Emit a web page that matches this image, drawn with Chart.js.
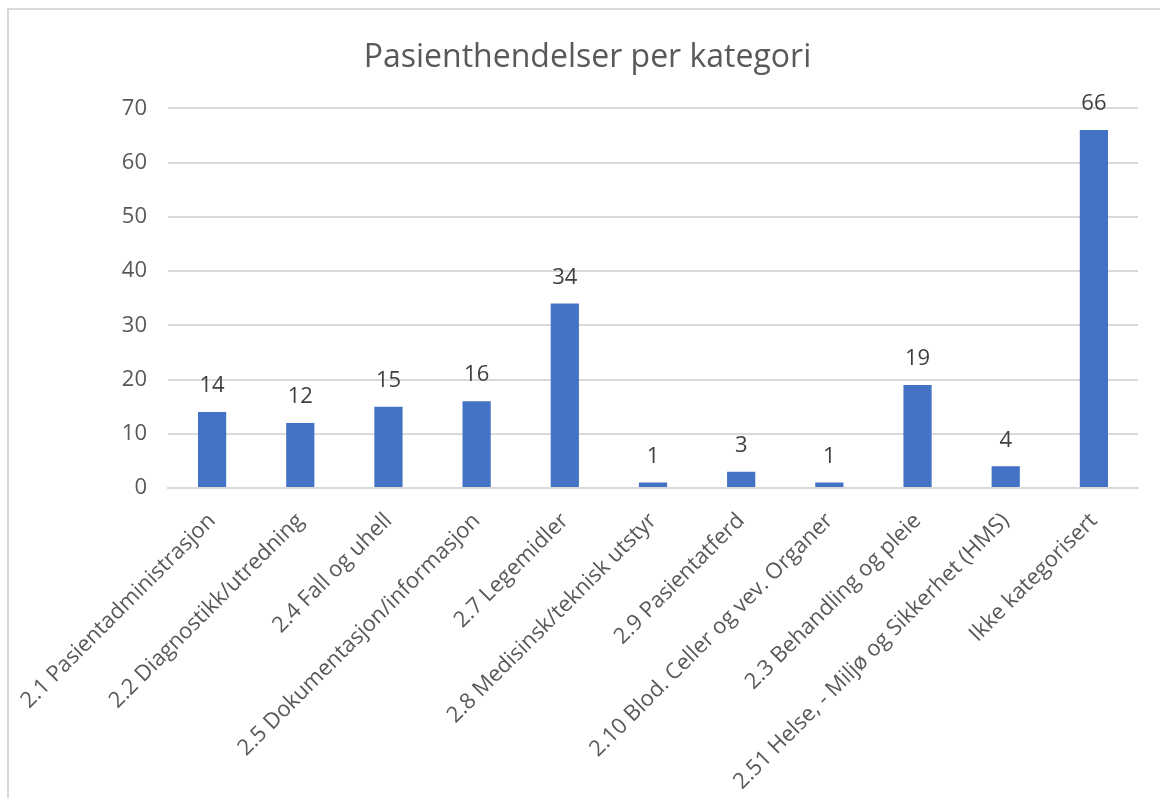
<!DOCTYPE html>
<html>
<head>
<meta charset="utf-8">
<script src="https://cdn.jsdelivr.net/npm/chart.js@4"></script>
<style>
  html, body { margin: 0; padding: 0; background: #fff; overflow: hidden; }
  #wrap {
    position: absolute; left: 7px; top: 8px; width: 1166px; height: 800px;
    border-top: 2px solid #d9d9d9; border-left: 2px solid #d9d9d9;
  }
  #myChart { display: block; }
</style>
</head>
<body>
<div id="wrap"><canvas id="myChart" width="1166" height="790"></canvas></div>
<script>
var categories = [
  '2.1 Pasientadministrasjon',
  '2.2 Diagnostikk/utredning',
  '2.4 Fall og uhell',
  '2.5 Dokumentasjon/informasjon',
  '2.7 Legemidler',
  '2.8 Medisinsk/teknisk utstyr',
  '2.9 Pasientatferd',
  '2.10 Blod. Celler og vev. Organer',
  '2.3 Behandling og pleie',
  '2.51 Helse, - Miljø og Sikkerhet (HMS)',
  'Ikke kategorisert'
];
var counts = [14, 12, 15, 16, 34, 1, 3, 1, 19, 4, 66];
var yTicks = [0, 10, 20, 30, 40, 50, 60, 70];

var fontFamily = '"Open Sans", Lato, sans-serif';

// simple value labels above the bars
var valueLabels = {
  id: 'valueLabels',
  afterLayout: function (chart) {
    // title is centred on the whole frame, not on the padded box
    chart.titleBlock.left += 14;
    chart.titleBlock.right += 14;
  },
  afterDatasetsDraw: function (chart) {
    var ctx = chart.ctx;
    var meta = chart.getDatasetMeta(0);
    ctx.save();
    ctx.font = '22px ' + fontFamily;
    ctx.fillStyle = '#404040';
    ctx.textAlign = 'center';
    ctx.textBaseline = 'middle';
    meta.data.forEach(function (bar, i) {
      ctx.fillText(String(counts[i]), bar.x, bar.y - 26);
    });
    ctx.restore();
  }
};

var ctx = document.getElementById('myChart').getContext('2d');
var myChart = new Chart(ctx, {
  type: 'bar',
  data: {
    labels: categories,
    datasets: [{
      data: counts,
      backgroundColor: '#4472c4',
      borderWidth: 0,
      barPercentage: 0.32,
      categoryPercentage: 1
    }]
  },
  plugins: [valueLabels],
  options: {
    responsive: false,
    animation: false,
    layout: { padding: { left: 0, right: 37, top: 0, bottom: 0 } },
    scales: {
      x: {
        grid: { display: false },
        border: { display: true, color: '#d9d9d9', width: 2 },
        ticks: {
          color: '#595959',
          font: { family: fontFamily, size: 22 },
          maxRotation: 45,
          minRotation: 45,
          autoSkip: false,
          padding: 12,
          labelOffset: 0
        },
        afterFit: function (scale) {
          scale.height = 312;
          scale.paddingLeft = 0;
        }
      },
      y: {
        min: 0,
        max: 70,
        grid: { color: '#d9d9d9', lineWidth: 2, drawTicks: false },
        border: { display: false },
        afterBuildTicks: function (scale) {
          scale.ticks = yTicks.map(function (v) { return { value: v }; });
        },
        ticks: {
          color: '#595959',
          font: { family: fontFamily, size: 22 },
          padding: 21
        },
        afterFit: function (scale) { scale.width = 159; }
      }
    },
    plugins: {
      legend: { display: false },
      tooltip: { enabled: false },
      title: {
        display: true,
        text: 'Pasienthendelser per kategori',
        color: '#595959',
        font: { family: fontFamily, size: 32, weight: 'normal' },
        padding: { top: 29, bottom: 31 }
      }
    }
  }
});
</script>
</body>
</html>
